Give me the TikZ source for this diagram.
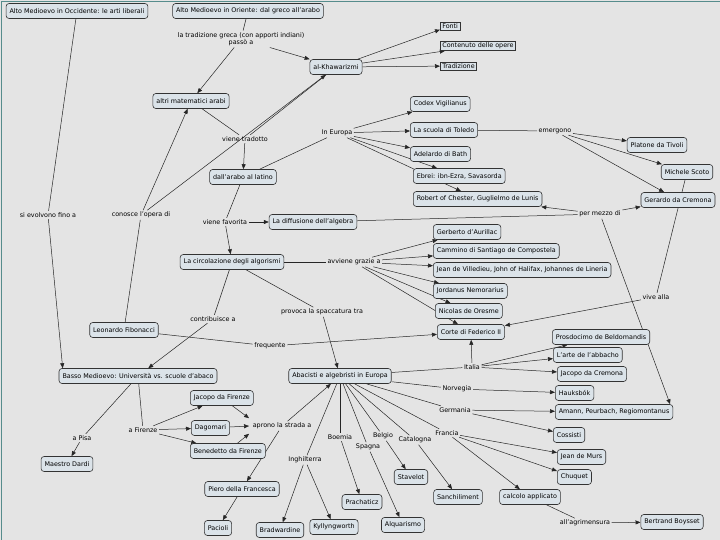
\documentclass[tikz,border=0pt]{standalone}
\usepackage{fontspec}
\setmainfont{DejaVu Sans}
\usetikzlibrary{arrows.meta,positioning}
\definecolor{mapbg}{RGB}{228,228,228}
\definecolor{conceptfill}{RGB}{219,227,233}
\definecolor{frameteal}{RGB}{86,140,140}
\newcommand{\mapfont}{\fontsize{6.4}{7.4}\selectfont}
\pgfdeclarelayer{paper}
\pgfdeclarelayer{links}
\pgfsetlayers{paper,links,main}

\begin{document}
\begin{tikzpicture}[
    x=1pt, y=-1pt,
    concept/.style={draw=black!80, rounded corners=3pt, fill=conceptfill, line width=0.6pt, inner xsep=3.5pt, minimum height=15pt, font=\mapfont},
    sqconcept/.style={draw=black!80, fill=conceptfill, line width=0.6pt, inner xsep=2pt, inner ysep=1.5pt, font=\mapfont},
    phrase/.style={inner sep=1.5pt, font=\mapfont},
    link/.style={line width=0.5pt, black!85},
    arrow/.style={link, -{Triangle[length=5pt, width=4pt]}}
  ]
  \useasboundingbox (0,0) rectangle (720,540);
  \begin{pgfonlayer}{paper}
    \fill[mapbg] (0,0) rectangle (720,540);
    \draw[frameteal, line width=1.2pt] (1.5,540) -- (1.5,1.5) -- (720,1.5);
  \end{pgfonlayer}

  % Top: Alto Medioevo
  \node[concept] (occ) at (77,11) {Alto Medioevo in Occidente: le arti liberali};
  \node[concept] (ori) at (248,11) {Alto Medioevo in Oriente: dal greco all'arabo};
  \node[phrase, align=center] (l_trad) at (241,39) {la tradizione greca (con apporti indiani)\\passò a};
  \node[concept] (arabi) at (191,101) {altri matematici arabi};
  \node[concept] (khw) at (336,67) {al-Khawarizmi};
  \node[sqconcept, anchor=west] (fonti) at (440,26) {Fonti};
  \node[sqconcept, anchor=west] (contenuto) at (440,46) {Contenuto delle opere};
  \node[sqconcept, anchor=west] (tradiz) at (440,66) {Tradizione};

  % Translations
  \node[phrase] (l_tradotto) at (245,139) {viene tradotto};
  \node[phrase] (l_conosce) at (141,215) {conosce l'opera di};
  \node[phrase] (l_evolvono) at (48,215) {si evolvono fino a};
  \node[concept] (latino) at (243,177) {dall'arabo al latino};
  \node[phrase] (l_europa) at (337,133) {In Europa};
  \node[concept, anchor=west] (codex) at (410,104) {Codex Vigilianus};
  \node[concept, anchor=west] (toledo) at (410,130) {La scuola di Toledo};
  \node[concept, anchor=west] (adelardo) at (410,154) {Adelardo di Bath};
  \node[concept, anchor=west] (ebrei) at (413,176) {Ebrei: ibn-Ezra, Savasorda};
  \node[concept, anchor=west] (robert) at (413,199) {Robert of Chester, Guglielmo de Lunis};
  \node[phrase] (l_emergono) at (555,131) {emergono};
  \node[concept] (platone) at (657,145) {Platone da Tivoli};
  \node[concept] (scoto) at (687,172) {Michele Scoto};
  \node[concept] (gerardo) at (678,200) {Gerardo da Cremona};

  % Diffusion
  \node[phrase] (l_favorita) at (225,222) {viene favorita};
  \node[concept] (diffusione) at (313,222) {La diffusione dell'algebra};
  \node[phrase] (l_mezzo) at (600,214) {per mezzo di};
  \node[concept] (circolazione) at (232,262) {La circolazione degli algorismi};
  \node[phrase] (l_grazie) at (354,262) {avviene grazie a};
  \node[concept, anchor=west] (gerberto) at (433,232) {Gerberto d'Aurillac};
  \node[concept, anchor=west] (santiago) at (433,251) {Cammino di Santiago de Compostela};
  \node[concept, anchor=west] (villedieu) at (433,270) {Jean de Villedieu, John of Halifax, Johannes de Lineria};
  \node[concept, anchor=west] (jordanus) at (433,291) {Jordanus Nemorarius};
  \node[concept, anchor=west] (oresme) at (435,311) {Nicolas de Oresme};
  \node[concept, anchor=west] (corte) at (437,332) {Corte di Federico II};
  \node[phrase] (l_vive) at (656,297) {vive alla};
  \node[phrase] (l_contrib) at (213,319) {contribuisce a};
  \node[phrase] (l_spacc) at (322,312) {provoca la spaccatura tra};
  \node[concept] (fibonacci) at (124,330) {Leonardo Fibonacci};
  \node[phrase] (l_frequente) at (270,346) {frequente};

  % Basso Medioevo
  \node[concept] (basso) at (138,376) {Basso Medioevo: Università vs. scuole d'abaco};
  \node[concept] (abacisti) at (340,376) {Abacisti e algebristi in Europa};
  \node[phrase] (l_pisa) at (82,438) {a Pisa};
  \node[concept] (dardi) at (67,464) {Maestro Dardi};
  \node[phrase] (l_firenze) at (143,430) {a Firenze};
  \node[concept, anchor=west] (jfirenze) at (190,398) {Jacopo da Firenze};
  \node[concept, anchor=west] (dagomari) at (191,428) {Dagomari};
  \node[concept, anchor=west] (benedetto) at (190,451) {Benedetto da Firenze};
  \node[phrase] (l_aprono) at (282,426) {aprono la strada a};
  \node[concept] (piero) at (242,489) {Piero della Francesca};
  \node[concept] (pacioli) at (218,528) {Pacioli};

  % Abacisti by country
  \node[phrase] (l_italia) at (472,367) {Italia};
  \node[concept, anchor=west] (prosdocimo) at (552,337) {Prosdocimo de Beldomandis};
  \node[concept, anchor=west] (abbacho) at (553,355) {L'arte de l'abbacho};
  \node[concept, anchor=west] (jcremona) at (557,374) {Jacopo da Cremona};
  \node[phrase] (l_norvegia) at (457,389) {Norvegia};
  \node[concept, anchor=west] (hauksbok) at (555,393) {Hauksbók};
  \node[phrase] (l_germania) at (455,410) {Germania};
  \node[concept, anchor=west] (amann) at (555,412) {Amann, Peurbach, Regiomontanus};
  \node[concept, anchor=west] (cossisti) at (553,435) {Cossisti};
  \node[phrase] (l_francia) at (447,433) {Francia};
  \node[concept, anchor=west] (murs) at (557,457) {Jean de Murs};
  \node[concept, anchor=west] (chuquet) at (557,477) {Chuquet};
  \node[concept] (calcolo) at (530,497) {calcolo applicato};
  \node[phrase] (l_agrim) at (585,523) {all'agrimensura};
  \node[concept] (boysset) at (672,522) {Bertrand Boysset};
  \node[phrase] (l_catalogna) at (415,440) {Catalogna};
  \node[concept] (sancl) at (458,497) {Sanchiliment};
  \node[phrase] (l_belgio) at (383,436) {Belgio};
  \node[concept] (stavelot) at (411,477) {Stavelot};
  \node[phrase] (l_spagna) at (368,447) {Spagna};
  \node[concept] (alquarismo) at (403,525) {Alquarismo};
  \node[phrase] (l_boemia) at (340,437) {Boemia};
  \node[concept] (prachaticz) at (362,502) {Prachaticz};
  \node[phrase] (l_inghilterra) at (305,460) {Inghilterra};
  \node[concept] (bradwardine) at (280,530) {Bradwardine};
  \node[concept] (kyllyngworth) at (334,527) {Kyllyngworth};

  \begin{pgfonlayer}{links}
    % Oriente -> arabi
    \draw[link] (ori) -- (l_trad);
    \draw[arrow] (l_trad) -- (arabi);
    \draw[arrow] (l_trad) -- (khw);
    \draw[arrow] (khw) -- (fonti);
    \draw[arrow] (khw) -- (contenuto);
    \draw[arrow] (khw) -- (tradiz);
    \draw[link] (arabi) -- (l_tradotto);
    \draw[link] (khw) -- (l_tradotto);
    \draw[arrow] (l_tradotto) -- (latino);
    \draw[link] (fibonacci) -- (l_conosce);
    \draw[arrow] (l_conosce) -- (arabi);
    \draw[arrow] (l_conosce) -- (khw);
    \draw[link] (occ) -- (l_evolvono);
    \draw[arrow] (l_evolvono) -- ([xshift=4pt]basso.north west);

    % Europa
    \draw[link] (latino) -- (l_europa);
    \draw[arrow] (l_europa) -- (codex);
    \draw[arrow] (l_europa) -- (toledo);
    \draw[arrow] (l_europa) -- (adelardo);
    \draw[arrow] (l_europa) -- (ebrei);
    \draw[arrow] (l_europa) -- (robert);
    \draw[link] (toledo) -- (l_emergono);
    \draw[arrow] (l_emergono) -- (platone);
    \draw[arrow] (l_emergono) -- (scoto);
    \draw[arrow] (l_emergono) -- (gerardo);

    % Diffusione e circolazione
    \draw[link] (latino) -- (l_favorita);
    \draw[arrow] (l_favorita) -- (diffusione);
    \draw[arrow] (l_favorita) -- (circolazione);
    \draw[link] (diffusione) -- (l_mezzo);
    \draw[arrow] (l_mezzo) -- (gerardo);
    \draw[arrow] (l_mezzo) -- (robert);
    \draw[arrow] (l_mezzo) -- ([xshift=-3pt]amann.north east);
    \draw[link] (scoto) -- (l_vive);
    \draw[arrow] (l_vive) -- (corte);
    \draw[link] (circolazione) -- (l_grazie);
    \draw[arrow] (l_grazie) -- (gerberto);
    \draw[arrow] (l_grazie) -- (santiago);
    \draw[arrow] (l_grazie) -- (villedieu);
    \draw[arrow] (l_grazie) -- (jordanus);
    \draw[arrow] (l_grazie) -- (oresme);
    \draw[arrow] (l_grazie) -- (corte);
    \draw[link] (circolazione) -- (l_contrib);
    \draw[arrow] (l_contrib) -- (basso);
    \draw[link] (circolazione) -- (l_spacc);
    \draw[arrow] (l_spacc) -- (abacisti);
    \draw[link] (fibonacci) -- (l_frequente);
    \draw[arrow] (l_frequente) -- (corte);

    % Basso Medioevo
    \draw[link] (basso) -- (l_pisa);
    \draw[arrow] (l_pisa) -- (dardi);
    \draw[link] (basso) -- (l_firenze);
    \draw[arrow] (l_firenze) -- (jfirenze);
    \draw[arrow] (l_firenze) -- (dagomari);
    \draw[arrow] (l_firenze) -- (benedetto);
    \draw[arrow] (jfirenze) -- ([xshift=-2pt,yshift=3pt]l_aprono.north west);
    \draw[arrow] (dagomari) -- ([xshift=-2pt]l_aprono.west);
    \draw[arrow] (benedetto) -- ([xshift=-2pt,yshift=-3pt]l_aprono.south west);
    \draw[arrow] (l_aprono) -- (abacisti);
    \draw[arrow] (l_aprono) -- (piero);
    \draw[arrow] (piero) -- (pacioli);

    % Abacisti by country
    \draw[link] (abacisti) -- (l_italia);
    \draw[arrow] (l_italia) -- (prosdocimo);
    \draw[arrow] (l_italia) -- (abbacho);
    \draw[arrow] (l_italia) -- (jcremona);
    \draw[arrow] (l_italia) -- (corte);
    \draw[link] (abacisti) -- (l_norvegia);
    \draw[arrow] (l_norvegia) -- (hauksbok);
    \draw[link] (abacisti) -- (l_germania);
    \draw[arrow] (l_germania) -- (amann);
    \draw[arrow] (l_germania) -- (cossisti);
    \draw[link] (abacisti) -- (l_francia);
    \draw[arrow] (l_francia) -- (murs);
    \draw[arrow] (l_francia) -- (chuquet);
    \draw[arrow] (l_francia) -- (calcolo);
    \draw[link] (calcolo) -- (l_agrim);
    \draw[arrow] (l_agrim) -- (boysset);
    \draw[link] (abacisti) -- (l_catalogna);
    \draw[arrow] (l_catalogna) -- (sancl);
    \draw[link] (abacisti) -- (l_belgio);
    \draw[arrow] (l_belgio) -- (stavelot);
    \draw[link] (abacisti) -- (l_spagna);
    \draw[arrow] (l_spagna) -- (alquarismo);
    \draw[link] (abacisti) -- (l_boemia);
    \draw[arrow] (l_boemia) -- (prachaticz);
    \draw[link] (abacisti) -- (l_inghilterra);
    \draw[arrow] (l_inghilterra) -- (bradwardine);
    \draw[arrow] (l_inghilterra) -- (kyllyngworth);
  \end{pgfonlayer}
\end{tikzpicture}
\end{document}
